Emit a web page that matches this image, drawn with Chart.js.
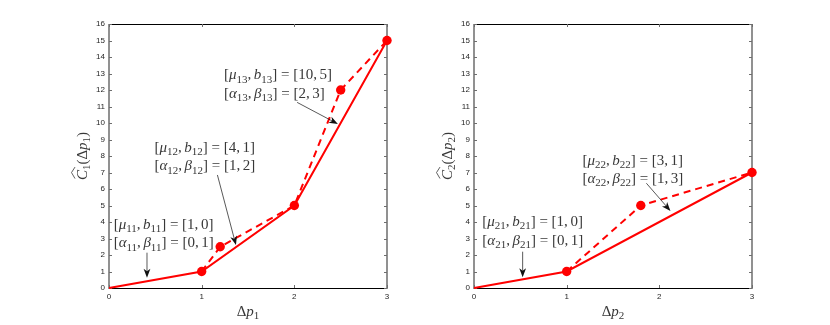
<!DOCTYPE html>
<html>
<head>
<meta charset="utf-8">
<script src="https://cdn.jsdelivr.net/npm/chart.js@4.4.0/dist/chart.umd.min.js"></script>
<style>
  html, body { margin: 0; padding: 0; background: #fff; }
  #wrap { position: relative; width: 830px; height: 325px; }
  .pane { position: absolute; top: 0; width: 415px; height: 325px; }
</style>
</head>
<body>
<div id="wrap">
  <div class="pane" style="left:0"><canvas id="chart-left" width="415" height="325"></canvas></div>
  <div class="pane" style="left:415px"><canvas id="chart-right" width="415" height="325"></canvas></div>
</div>
<script>
// Tick values shared by both panels
const xTicks = [0, 1, 2, 3];
const yTicks = [0, 1, 2, 3, 4, 5, 6, 7, 8, 9, 10, 11, 12, 13, 14, 15, 16];

// Left panel: cost of player 1
const leftSolidX = [0, 1, 2, 3];
const leftSolidY = [0, 1, 5, 15];
const leftDashX = [1, 1.2, 2, 2.5, 3];
const leftDashY = [1, 2.5, 5, 12, 15];
const leftDotX = [1, 1.2, 2, 2.5, 3];
const leftDotY = [1, 2.5, 5, 12, 15];

// Right panel: cost of player 2
const rightSolidX = [0, 1, 3];
const rightSolidY = [0, 1, 7];
const rightDashX = [1, 1.8, 3];
const rightDashY = [1, 5, 7];
const rightDotX = [1, 1.8, 3];
const rightDotY = [1, 5, 7];

// Text callouts (anchor and arrow ends in data units)
const leftNotes = [
    { lines: ['[μ_13,b_13] = [10,5]', '[α_13,β_13] = [2,3]'], at: [1.24, 12.91], from: [2.03, 11.25], to: [2.47, 9.94] },
    { lines: ['[μ_12,b_12] = [4,1]', '[α_12,β_12] = [1,2]'], at: [0.49, 8.52], from: [1.17, 6.85], to: [1.37, 2.6] },
    { lines: ['[μ_11,b_11] = [1,0]', '[α_11,β_11] = [0,1]'], at: [0.05, 3.85], from: [0.41, 2.14], to: [0.41, 0.62] }
];
const rightNotes = [
    { lines: ['[μ_22,b_22] = [3,1]', '[α_22,β_22] = [1,3]'], at: [1.17, 7.75], from: [1.86, 6.35], to: [2.12, 4.67] },
    { lines: ['[μ_21,b_21] = [1,0]', '[α_21,β_21] = [0,1]'], at: [0.09, 4.03], from: [0.525, 2.2], to: [0.525, 0.65] }
];

const RED = '#ff0000';
const INK = '#262626';
const TEXT_INK = '#383838';
const SERIF = '"Liberation Serif", "DejaVu Serif", serif';
const SANS = '"Liberation Sans", Arial, sans-serif';
const TEXT_SIZE = 15;

function toPoints(xs, ys) {
    return xs.map((x, i) => ({ x: x, y: ys[i] }));
}

// Split "α_13" style markup into italic / roman / subscript runs
function parseRich(str) {
    const parts = [];
    let i = 0;
    while (i < str.length) {
        const ch = str[i];
        if (ch === '_') {
            let j = i + 1;
            while (j < str.length && /[0-9]/.test(str[j])) j++;
            parts.push({ t: str.slice(i + 1, j), k: 's' });
            i = j;
            continue;
        }
        if (ch === ',') {
            // math-mode comma: thin space after it
            parts.push({ t: ',', k: 'r', pad: 0.17 });
            i++;
            continue;
        }
        const k = /[A-Za-zμαβ]/.test(ch) ? 'i' : 'r';
        const last = parts[parts.length - 1];
        if (last && last.k === k && !last.pad) last.t += ch;
        else parts.push({ t: ch, k: k });
        i++;
    }
    return parts;
}

function fontFor(kind, size) {
    if (kind === 'i') return 'italic ' + size + 'px ' + SERIF;
    if (kind === 's') return Math.round(size * 0.7) + 'px ' + SERIF;
    return size + 'px ' + SERIF;
}

// Draw rich text at baseline y; returns left x of the run
function drawRich(ctx, str, x, y, size, align) {
    const parts = parseRich(str);
    let total = 0;
    parts.forEach(p => {
        ctx.font = fontFor(p.k, size);
        p.w = ctx.measureText(p.t).width + (p.pad ? p.pad * size : 0);
        total += p.w;
    });
    let cx = align === 'center' ? x - total / 2 : x;
    const x0 = cx;
    ctx.textAlign = 'left';
    ctx.textBaseline = 'alphabetic';
    parts.forEach(p => {
        ctx.font = fontFor(p.k, size);
        ctx.fillText(p.t, cx, p.k === 's' ? y + size * 0.22 : y);
        cx += p.w;
    });
    return x0;
}

function drawArrow(ctx, x1, y1, x2, y2) {
    const ang = Math.atan2(y2 - y1, x2 - x1);
    const len = 9, half = 3.4, notch = 6.5;
    const cos = Math.cos(ang), sin = Math.sin(ang);
    ctx.strokeStyle = '#111';
    ctx.fillStyle = '#111';
    ctx.lineWidth = 0.7;
    ctx.beginPath();
    ctx.moveTo(x1, y1);
    ctx.lineTo(x2 - notch * cos, y2 - notch * sin);
    ctx.stroke();
    ctx.beginPath();
    ctx.moveTo(x2, y2);
    ctx.lineTo(x2 - len * cos + half * sin, y2 - len * sin - half * cos);
    ctx.lineTo(x2 - notch * cos, y2 - notch * sin);
    ctx.lineTo(x2 - len * cos - half * sin, y2 - len * sin + half * cos);
    ctx.closePath();
    ctx.fill();
}

// MATLAB-like box, inner ticks, axis titles and callouts
const matlabAxes = {
    id: 'matlabAxes',
    beforeDatasetsDraw(chart) {
        const ctx = chart.ctx;
        const { left, right, top, bottom } = chart.chartArea;
        const xs = chart.scales.x, ys = chart.scales.y;
        ctx.save();
        ctx.strokeStyle = '#000';
        ctx.lineWidth = 1;
        ctx.beginPath();
        ctx.moveTo(left, top + 0.5); ctx.lineTo(right, top + 0.5);
        ctx.moveTo(left, bottom + 0.5); ctx.lineTo(right, bottom + 0.5);
        ctx.stroke();
        ctx.strokeStyle = '#6e6e6e';
        ctx.lineWidth = 1.5;
        ctx.beginPath();
        ctx.moveTo(left, top); ctx.lineTo(left, bottom + 1);
        ctx.moveTo(right, top); ctx.lineTo(right, bottom + 1);
        ctx.stroke();
        ctx.lineWidth = 1;
        ctx.beginPath();
        yTicks.forEach(v => {
            const py = Math.round(ys.getPixelForValue(v)) + 0.5;
            ctx.moveTo(left, py); ctx.lineTo(left + 3, py);
            ctx.moveTo(right, py); ctx.lineTo(right - 3, py);
        });
        xTicks.forEach(v => {
            const px = Math.round(xs.getPixelForValue(v)) + 0.5;
            ctx.moveTo(px, bottom); ctx.lineTo(px, bottom - 3);
            ctx.moveTo(px, top); ctx.lineTo(px, top + 3);
        });
        ctx.stroke();
        ctx.restore();
    },
    afterDraw(chart, args, opts) {
        const ctx = chart.ctx;
        const { left, right, top, bottom } = chart.chartArea;
        const xs = chart.scales.x, ys = chart.scales.y;
        ctx.save();
        ctx.fillStyle = TEXT_INK;

        // x title
        drawRich(ctx, 'Δp_' + opts.idx, (left + right) / 2, bottom + 27.5, TEXT_SIZE, 'center');

        // y title, rotated, with a wide hat on the C
        ctx.save();
        ctx.translate(left - 22, (top + bottom) / 2);
        ctx.rotate(-Math.PI / 2);
        const x0 = drawRich(ctx, 'C_' + opts.idx + '(Δp_' + opts.idx + ')', 0, 0, TEXT_SIZE, 'center');
        ctx.font = fontFor('i', TEXT_SIZE);
        const wC = ctx.measureText('C').width;
        ctx.strokeStyle = TEXT_INK;
        ctx.lineWidth = 0.8;
        ctx.beginPath();
        ctx.moveTo(x0 + 1.5, -12);
        ctx.lineTo(x0 + wC / 2 + 2.5, -15.5);
        ctx.lineTo(x0 + wC + 3, -12);
        ctx.stroke();
        ctx.restore();

        // callouts
        opts.notes.forEach(n => {
            const tx = xs.getPixelForValue(n.at[0]);
            const ty = ys.getPixelForValue(n.at[1]);
            ctx.fillStyle = TEXT_INK;
            n.lines.forEach((line, i) => drawRich(ctx, line, tx, ty + 4.5 + i * 18.5, TEXT_SIZE, 'left'));
            drawArrow(ctx,
                xs.getPixelForValue(n.from[0]), ys.getPixelForValue(n.from[1]),
                xs.getPixelForValue(n.to[0]), ys.getPixelForValue(n.to[1]));
        });
        ctx.restore();
    }
};

function makeChart(canvasId, solid, dashed, dots, notes, idx, pad) {
    const ctx = document.getElementById(canvasId).getContext('2d');
    return new Chart(ctx, {
        type: 'scatter',
        data: {
            datasets: [
                { data: dots, showLine: false, pointRadius: 4.7, pointBackgroundColor: RED, pointBorderColor: RED, pointBorderWidth: 0, clip: false },
                { data: dashed, showLine: true, borderColor: RED, borderWidth: 2, borderDash: [7, 5], pointRadius: 0, tension: 0, clip: false },
                { data: solid, showLine: true, borderColor: RED, borderWidth: 2, pointRadius: 0, tension: 0, clip: false }
            ]
        },
        options: {
            responsive: false,
            animation: false,
            devicePixelRatio: 1,
            events: [],
            layout: { padding: pad },
            plugins: {
                legend: { display: false },
                tooltip: { enabled: false },
                matlabAxes: { notes: notes, idx: idx }
            },
            scales: {
                x: {
                    type: 'linear', min: 0, max: 3,
                    afterBuildTicks: s => { s.ticks = xTicks.map(v => ({ value: v })); },
                    afterFit: s => { s.height = 20; },
                    ticks: { font: { family: SANS, size: 8 }, color: INK, padding: 4, maxRotation: 0 },
                    grid: { display: false, drawTicks: false },
                    border: { display: false }
                },
                y: {
                    type: 'linear', min: 0, max: 16,
                    afterBuildTicks: s => { s.ticks = yTicks.map(v => ({ value: v })); },
                    afterFit: s => { s.width = 30; },
                    ticks: { font: { family: SANS, size: 8 }, color: INK, padding: 4 },
                    grid: { display: false, drawTicks: false },
                    border: { display: false }
                }
            }
        },
        plugins: [matlabAxes]
    });
}

makeChart('chart-left',
    toPoints(leftSolidX, leftSolidY), toPoints(leftDashX, leftDashY), toPoints(leftDotX, leftDotY),
    leftNotes, 1, { left: 79, right: 28, top: 24, bottom: 17 });
makeChart('chart-right',
    toPoints(rightSolidX, rightSolidY), toPoints(rightDashX, rightDashY), toPoints(rightDotX, rightDotY),
    rightNotes, 2, { left: 29, right: 78, top: 24, bottom: 17 });
</script>
</body>
</html>
